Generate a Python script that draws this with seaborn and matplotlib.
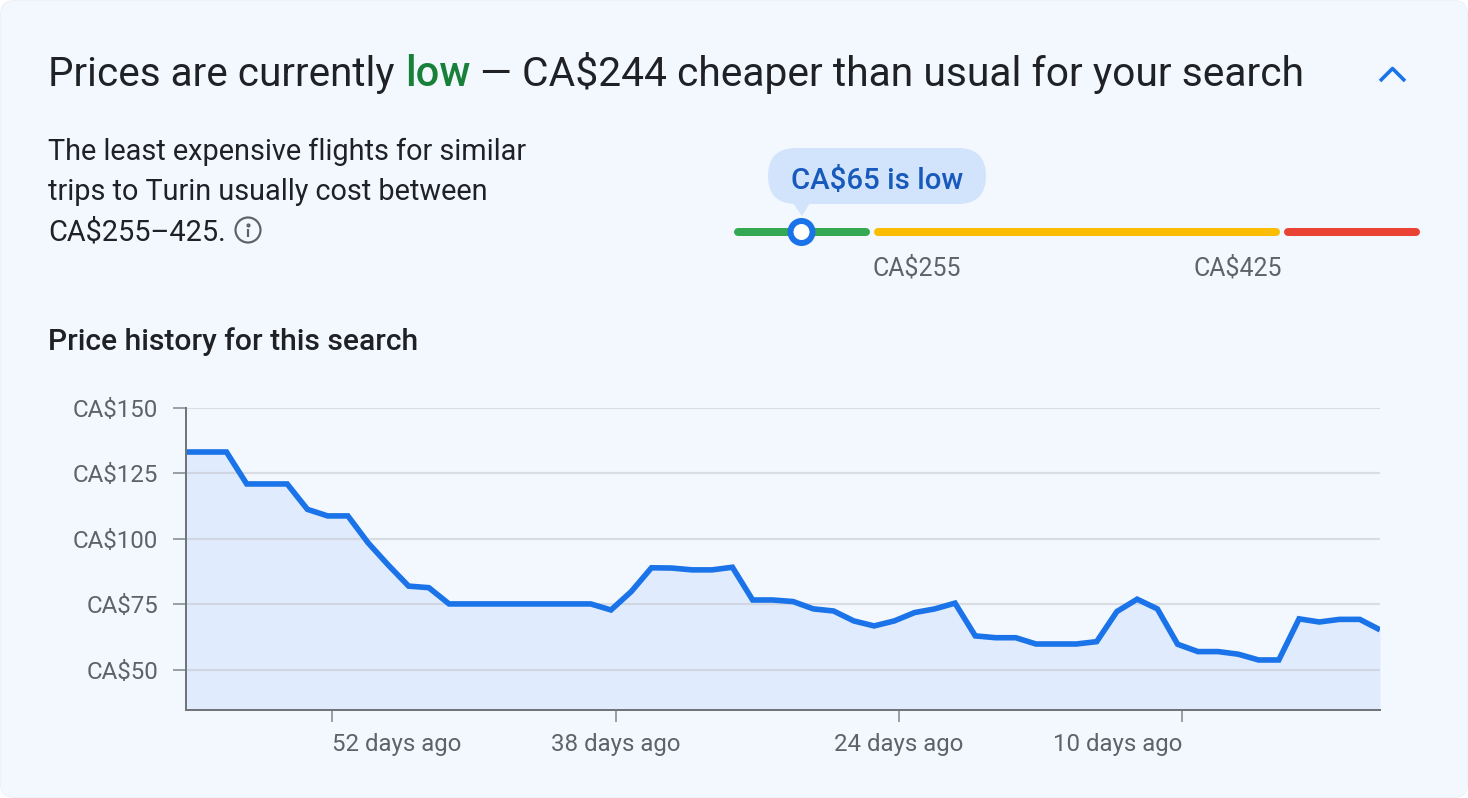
import numpy as np
import matplotlib
matplotlib.use("Agg")
import matplotlib.pyplot as plt
from matplotlib.patches import FancyBboxPatch, Circle, Polygon
import seaborn as sns

# price per day, oldest first
prices = [133.2, 133.2, 133.2, 121, 121, 121, 111.3, 108.8, 108.8, 98.5,
          90, 82, 81.4, 75.2, 75.2, 75.2, 75.2, 75.2, 75.2, 75.2,
          75.2, 72.9, 79.9, 89, 88.9, 88.2, 88.2, 89.2, 76.7, 76.7,
          76.1, 73.3, 72.5, 68.7, 66.8, 68.7, 71.9, 73.3, 75.5, 63,
          62.3, 62.3, 59.9, 59.9, 59.9, 60.8, 72.3, 77, 73.3, 59.8,
          57, 57, 56, 53.8, 53.8, 69.5, 68.3, 69.3, 69.3, 65.3]
y_ticks = [50, 75, 100, 125, 150]
y_labels = ["CA$50", "CA$75", "CA$100", "CA$125", "CA$150"]
tick_days = [52, 38, 24, 10]
tick_labels = ["52 days ago", "38 days ago", "24 days ago", "10 days ago"]
tick_align = ["left", "center", "center", "right"]

title_parts = ["Prices are currently", "low", "— CA$244 cheaper than usual for your search"]
body_lines = ["The least expensive flights for similar",
              "trips to Turin usually cost between",
              "CA$255–425."]
subtitle = "Price history for this search"
bubble_text = "CA$65 is low"
range_labels = ["CA$255", "CA$425"]

BG = "#f3f8ff"
BLUE = "#1a73e8"
DARK = "#202124"
GREY = "#5f6368"
W, H = 1468, 798

sns.set_theme(style="white")
plt.rcParams["font.family"] = ["Roboto", "DejaVu Sans"]
plt.rcParams["text.parse_math"] = False


def pts(px):
    return px * 72 / 100


fig = plt.figure(figsize=(W / 100, H / 100), dpi=100, facecolor="white")

# overlay in pixel coordinates for the card header and price slider
bg = fig.add_axes([0, 0, 1, 1])
bg.set_xlim(0, W)
bg.set_ylim(H, 0)
bg.axis("off")
bg.add_patch(FancyBboxPatch((14, 14), W - 28, H - 28, boxstyle="round,pad=13.5,rounding_size=14",
                            fc=BG, ec="#eef2f8", lw=0.8))

bg.text(48, 86.5, title_parts[0], fontsize=29.1, color=DARK)
bg.text(405, 86.5, title_parts[1], fontsize=30, fontweight="medium", color="#188038")
bg.text(480, 86.5, title_parts[2], fontsize=29.3, color=DARK)
bg.plot([1380, 1392.5, 1405], [81, 68.5, 81], color=BLUE, lw=pts(3.6), solid_capstyle="butt")

for y, line in zip([160.5, 200.5, 240.5], body_lines):
    bg.text(48, y, line, fontsize=20.8, color=DARK)
bg.add_patch(Circle((248, 230), 12.5, fc="none", ec=GREY, lw=pts(2.2)))
bg.plot([248, 248], [229, 237], color=GREY, lw=pts(2.2), solid_capstyle="butt")
bg.plot([248], [224.5], "o", color=GREY, ms=pts(2.8))

bg.text(48, 350.5, subtitle, fontsize=21.6, fontweight="medium", color=DARK)

# slider
for x0, x1, c in [(738, 866, "#34a853"), (878, 1276, "#fbbc04"), (1288, 1416, "#ea4335")]:
    bg.plot([x0, x1], [232, 232], color=c, lw=pts(8), solid_capstyle="round")
bg.add_patch(FancyBboxPatch((796, 176), 162, 0, boxstyle="round,pad=28,rounding_size=28",
                            fc="#d2e3fc", ec="none"))
bg.add_patch(Polygon([(793, 203), (810, 203), (802, 216)], fc="#d2e3fc", ec="none"))
bg.text(877, 188.5, bubble_text, fontsize=21.2, fontweight="medium", color="#185abc", ha="center")
bg.add_patch(Circle((801.5, 232), 11, fc="white", ec=BLUE, lw=pts(6), zorder=5))
bg.text(872, 276, range_labels[0], fontsize=17.9, color=GREY)
bg.text(1282, 276, range_labels[1], fontsize=17.9, color=GREY, ha="right")

# price history
ax = fig.add_axes([186 / W, 1 - 710 / H, (1380 - 186) / W, (710 - 408) / H])
ax.patch.set_visible(False)
x = np.arange(len(prices))
sns.lineplot(x=x, y=prices, ax=ax, color=BLUE, linewidth=pts(5.6), zorder=4,
             solid_joinstyle="miter", solid_capstyle="butt")
ax.fill_between(x, prices, 0, color="#d2e3fc", alpha=0.55, lw=0, zorder=1)
ax.set_xlim(0, len(prices) - 1)
ax.set_ylim(34.7, 150)

ax.set_yticks(y_ticks)
ax.set_yticklabels(y_labels)
ax.set_xticks([59.23 - d for d in tick_days])
ax.set_xticklabels(tick_labels)
for lab, al in zip(ax.get_xticklabels(), tick_align):
    lab.set_ha(al)
ax.tick_params(axis="y", length=pts(13), width=pts(2), color="#9aa0a6", pad=pts(15),
               labelsize=17.4, labelcolor=GREY, left=True)
ax.tick_params(axis="x", length=pts(12), width=pts(2), color="#9aa0a6", pad=pts(11),
               labelsize=17.3, labelcolor=GREY, bottom=True)
# grid sits over the fill, a bit see-through so it darkens there
ax.set_axisbelow("line")
ax.grid(axis="y", color="#c8cad0", alpha=0.6, lw=pts(2.2))
sns.despine(ax=ax, top=True, right=True)
for side in ["left", "bottom"]:
    ax.spines[side].set_color("#70757a")
    ax.spines[side].set_linewidth(pts(2))
    ax.spines[side].set_zorder(6)

fig.savefig("out.png", dpi=100, facecolor="white")
